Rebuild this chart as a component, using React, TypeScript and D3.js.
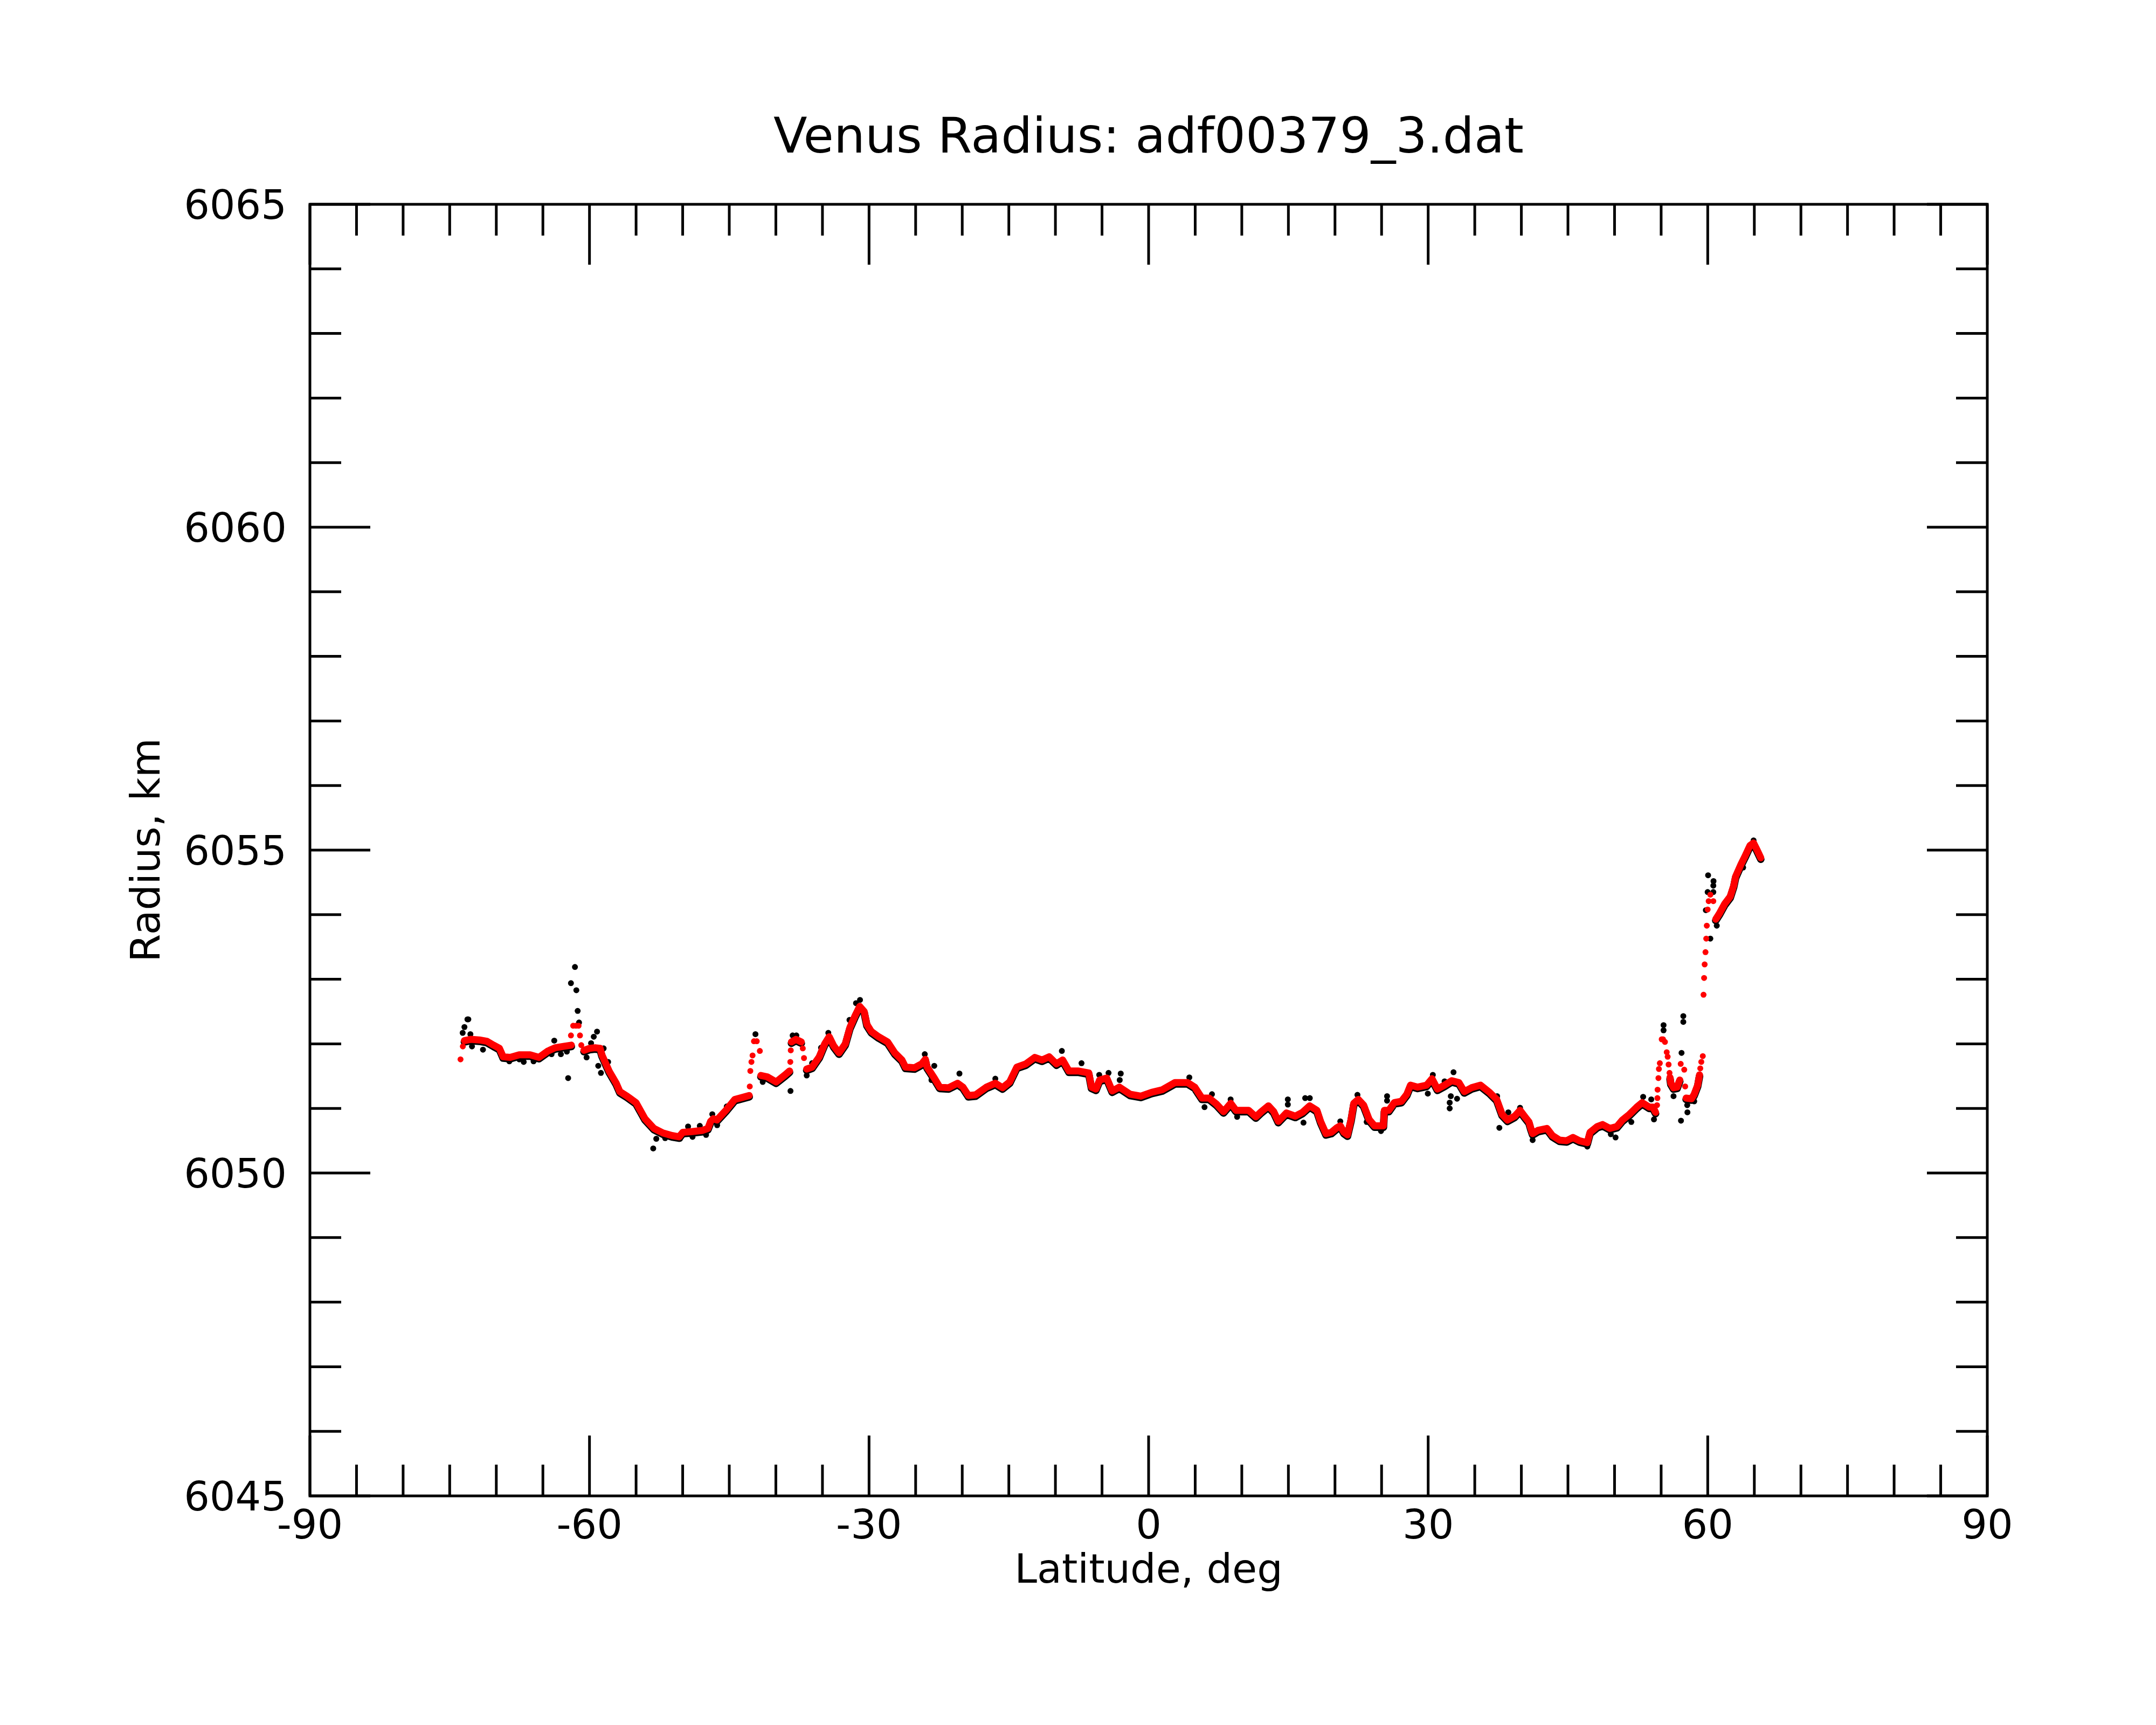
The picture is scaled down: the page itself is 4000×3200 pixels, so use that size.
import React from "react";
import { scaleLinear, line, range } from "d3";

// smoothed radius (red) where the samples run together into a band
const redTracks: Array<Array<[number, number]>> = [
  [
    [-73.42, 6052.05], [-72.75, 6052.07], [-71.8, 6052.06], [-71.01, 6052.04], [-70.3, 6051.98],
    [-69.66, 6051.93], [-69.27, 6051.8], [-68.5, 6051.79], [-67.54, 6051.83], [-66.38, 6051.83],
    [-65.42, 6051.79], [-64.45, 6051.89], [-63.68, 6051.94], [-62.8, 6051.96], [-61.95, 6051.98],
  ],
  [
    [-60.59, 6051.9], [-60.01, 6051.93], [-59.4, 6051.94], [-58.86, 6051.93], [-58.67, 6051.83],
    [-57.9, 6051.58], [-57.13, 6051.39], [-56.74, 6051.26], [-55.97, 6051.19], [-55.01, 6051.09],
    [-54.04, 6050.84], [-53.08, 6050.69], [-52.11, 6050.62], [-51.15, 6050.58], [-50.38, 6050.56],
    [-49.99, 6050.63], [-49.03, 6050.64], [-47.87, 6050.66], [-47.29, 6050.69], [-47.0, 6050.8],
    [-46.71, 6050.84], [-46.33, 6050.82], [-45.37, 6050.97], [-44.4, 6051.14], [-43.6, 6051.17],
    [-42.86, 6051.2],
  ],
  [
    [-41.61, 6051.51], [-40.94, 6051.49], [-39.97, 6051.41], [-39.01, 6051.52], [-38.53, 6051.58],
  ],
  [
    [-38.33, 6052.03], [-37.85, 6052.07], [-37.27, 6052.03],
  ],
  [
    [-36.69, 6051.61], [-36.11, 6051.64], [-35.34, 6051.8], [-34.76, 6052.0], [-34.28, 6052.11],
    [-33.8, 6051.97], [-33.22, 6051.86], [-32.55, 6052.0], [-32.06, 6052.25], [-31.48, 6052.44],
    [-31.0, 6052.58], [-30.52, 6052.5], [-30.23, 6052.3], [-29.75, 6052.19], [-28.98, 6052.11],
    [-28.01, 6052.03], [-27.24, 6051.86], [-26.47, 6051.75], [-26.09, 6051.64], [-25.12, 6051.63],
    [-24.35, 6051.69], [-23.96, 6051.76], [-23.77, 6051.64], [-23.0, 6051.47], [-22.42, 6051.33],
    [-21.46, 6051.32], [-20.5, 6051.39], [-19.92, 6051.33], [-19.34, 6051.2], [-18.57, 6051.21],
    [-17.41, 6051.33], [-16.45, 6051.39], [-15.68, 6051.32], [-14.91, 6051.41], [-14.14, 6051.64],
    [-13.17, 6051.69], [-12.21, 6051.79], [-11.44, 6051.75], [-10.67, 6051.8], [-9.89, 6051.69],
    [-9.22, 6051.75], [-8.55, 6051.58], [-7.58, 6051.58], [-6.42, 6051.55], [-6.13, 6051.33],
    [-5.65, 6051.3], [-5.26, 6051.44], [-4.49, 6051.47], [-3.91, 6051.27], [-3.14, 6051.33],
    [-1.98, 6051.22], [-0.83, 6051.19], [0.33, 6051.25], [1.48, 6051.29], [2.83, 6051.4],
    [4.18, 6051.4], [4.95, 6051.33], [5.72, 6051.16], [6.49, 6051.16], [7.26, 6051.07],
    [8.04, 6050.95], [8.81, 6051.08], [9.38, 6050.97], [10.74, 6050.97], [11.51, 6050.87],
    [12.09, 6050.95], [12.86, 6051.04], [13.43, 6050.95], [13.92, 6050.8], [14.79, 6050.93],
    [15.75, 6050.88], [16.52, 6050.94], [17.29, 6051.04], [18.06, 6050.97], [18.45, 6050.8],
    [19.03, 6050.61], [19.61, 6050.63], [20.19, 6050.7], [20.57, 6050.73], [20.96, 6050.63],
    [21.34, 6050.59], [21.73, 6050.83], [22.02, 6051.08], [22.5, 6051.14], [23.08, 6051.05],
    [23.66, 6050.83], [24.24, 6050.73], [25.2, 6050.73], [25.3, 6050.97], [25.78, 6050.97],
    [26.36, 6051.09], [27.13, 6051.11], [27.71, 6051.22], [28.1, 6051.36], [28.87, 6051.33],
    [29.83, 6051.36], [30.41, 6051.46], [30.99, 6051.3], [31.76, 6051.36], [32.53, 6051.43],
    [33.3, 6051.4], [33.88, 6051.26], [34.65, 6051.32], [35.62, 6051.36], [36.58, 6051.25],
    [37.35, 6051.14], [37.93, 6050.91], [38.51, 6050.82], [39.28, 6050.88], [39.86, 6050.97],
    [40.44, 6050.86], [40.82, 6050.79], [41.02, 6050.69], [41.21, 6050.61], [41.79, 6050.66],
    [42.75, 6050.69], [43.33, 6050.58], [44.1, 6050.51], [44.87, 6050.5], [45.54, 6050.55],
    [46.22, 6050.5], [47.08, 6050.47], [47.37, 6050.63], [48.14, 6050.72], [48.72, 6050.75],
    [49.49, 6050.69], [50.26, 6050.72], [50.84, 6050.82], [51.61, 6050.91], [52.38, 6051.02],
    [52.96, 6051.09], [53.73, 6051.02], [54.12, 6051.02], [54.4, 6050.94],
  ],
  [
    [55.95, 6051.48], [56.04, 6051.39], [56.33, 6051.32], [56.71, 6051.33], [57.0, 6051.44],
  ],
  [
    [57.68, 6051.16], [58.26, 6051.15], [58.55, 6051.22], [58.92, 6051.36], [59.12, 6051.52],
  ],
  [
    [60.86, 6053.93], [61.3, 6054.03], [61.83, 6054.17], [62.41, 6054.28], [62.79, 6054.45],
    [62.99, 6054.59], [63.57, 6054.78], [64.05, 6054.92], [64.53, 6055.07], [64.92, 6055.11],
    [65.3, 6055.0], [65.69, 6054.88],
  ],
];

// smoothed radius (red) where the samples stand apart
const redDots: Array<[number, number]> = [
  [-73.84, 6051.76], [-73.59, 6051.96],
  [-61.99, 6052.13], [-61.75, 6052.28], [-61.45, 6052.28], [-61.17, 6052.28], [-61.02, 6052.13],
  [-60.88, 6051.98],
  [-42.8, 6051.34], [-42.74, 6051.58], [-42.62, 6051.72], [-42.5, 6051.82], [-42.35, 6052.04],
  [-42.05, 6052.04], [-41.72, 6051.89],
  [-38.45, 6051.72], [-38.4, 6051.9], [-37.11, 6051.93], [-36.98, 6051.78],
  [54.56, 6051.05], [54.6, 6051.16], [54.62, 6051.29], [54.71, 6051.47], [54.76, 6051.61],
  [54.86, 6051.7], [55.06, 6052.07], [55.2, 6052.07], [55.41, 6052.03], [55.6, 6051.87],
  [55.7, 6051.8], [55.8, 6051.68], [55.9, 6051.55],
  [57.1, 6051.69], [57.48, 6051.6], [57.58, 6051.34],
  [59.2, 6051.62], [59.31, 6051.72], [59.47, 6051.81],
  [59.55, 6052.76], [59.61, 6053.02], [59.67, 6053.23], [59.76, 6053.42], [59.84, 6053.63],
  [59.9, 6053.83], [59.99, 6054.08], [60.1, 6054.21], [60.28, 6054.31], [60.6, 6054.21],
];

// raw radius (black) points that stand off the smoothed band
const rawDots: Array<[number, number]> = [
  [-73.61, 6052.17], [-73.42, 6052.26], [-73.1, 6052.38], [-73.0, 6052.38], [-72.78, 6052.15],
  [-72.61, 6051.96], [-71.43, 6051.91], [-68.6, 6051.73], [-67.54, 6051.76], [-67.06, 6051.72],
  [-66.0, 6051.73], [-64.07, 6051.84], [-63.78, 6052.05], [-63.07, 6051.84], [-62.43, 6051.88],
  [-62.29, 6051.47], [-61.99, 6052.94], [-61.56, 6053.19], [-61.41, 6052.83], [-61.27, 6052.51],
  [-61.12, 6052.33], [-60.31, 6051.79], [-59.83, 6052.01], [-59.54, 6052.11], [-59.19, 6052.19],
  [-59.06, 6051.66], [-58.77, 6051.55], [-58.48, 6051.93], [-58.0, 6051.72],
  [-53.16, 6050.38], [-52.83, 6050.53], [-51.88, 6050.54], [-50.29, 6050.53], [-49.42, 6050.72],
  [-48.94, 6050.56], [-48.16, 6050.73], [-47.49, 6050.59], [-46.82, 6050.91], [-46.3, 6050.74],
  [-45.27, 6051.03], [-42.19, 6052.15], [-41.41, 6051.41], [-38.43, 6051.27], [-38.2, 6052.13],
  [-37.8, 6052.13], [-36.69, 6051.51], [-36.11, 6051.7], [-35.15, 6051.94], [-34.37, 6052.17],
  [-32.1, 6052.37], [-31.4, 6052.63], [-30.97, 6052.68], [-24.02, 6051.84], [-23.3, 6051.44],
  [-23.0, 6051.66], [-20.3, 6051.54], [-16.45, 6051.46], [-9.31, 6051.89], [-7.2, 6051.7],
  [-5.3, 6051.52], [-4.3, 6051.55], [-3.1, 6051.44], [-2.99, 6051.54], [4.37, 6051.48],
  [6.0, 6051.02], [6.8, 6051.22], [8.8, 6051.14], [9.5, 6050.87],
  [14.94, 6051.14], [14.94, 6051.06], [16.62, 6050.78], [16.8, 6051.16], [17.3, 6051.16],
  [20.57, 6050.8], [22.41, 6051.21], [23.4, 6050.79], [24.94, 6050.65], [25.59, 6051.19],
  [25.59, 6051.12], [29.96, 6051.23], [30.5, 6051.52], [31.76, 6051.42], [32.31, 6051.09],
  [32.31, 6051.0], [32.43, 6051.19], [32.72, 6051.56], [33.1, 6051.15], [37.4, 6051.19],
  [37.64, 6050.7], [38.6, 6050.94], [39.86, 6051.01], [41.21, 6050.51], [47.08, 6050.41],
  [49.6, 6050.6], [50.11, 6050.55], [51.8, 6050.79], [53.07, 6051.18], [53.94, 6051.14],
  [54.23, 6050.83], [55.26, 6052.29], [55.26, 6052.21], [56.33, 6051.19], [57.13, 6050.81],
  [57.19, 6051.86], [57.38, 6052.43], [57.38, 6052.34], [57.8, 6051.05], [57.82, 6050.94],
  [58.55, 6051.11], [59.8, 6054.07], [59.99, 6054.35], [60.04, 6054.61], [60.28, 6053.63],
  [60.6, 6054.35], [60.6, 6054.45], [60.62, 6054.52], [60.97, 6053.83], [63.8, 6054.73],
  [64.92, 6055.15],
];

const xTickLabels = [-90, -60, -30, 0, 30, 60, 90];
const yTickLabels = [6045, 6050, 6055, 6060, 6065];

const W = 4000;
const H = 3200;
const left = 575;
const right = 3687;
const top = 379;
const bottom = 2775;
const font = "'DejaVu Sans', sans-serif";

export default function App() {
  const x = scaleLinear().domain([-90, 90]).range([left, right]);
  const y = scaleLinear().domain([6045, 6065]).range([bottom, top]);
  const path = line<[number, number]>()
    .x((d) => x(d[0]))
    .y((d) => y(d[1]));

  const xMinor = range(-90, 91, 5);
  const yMinor = range(6045, 6066, 1);
  const major = 112;
  const minor = 58;

  return (
    <svg
      width={W}
      height={H}
      style={{ position: "absolute", left: 0, top: 0, background: "#fff" }}
    >
      <rect x={0} y={0} width={W} height={H} fill="#fff" />

      {/* raw band, mostly hidden under the smoothed one */}
      <g transform="translate(0,2.5)">
        {redTracks.map((t, i) => (
          <path
            key={"b" + i}
            d={path(t) as string}
            fill="none"
            stroke="#000"
            strokeWidth={14}
            strokeLinejoin="round"
            strokeLinecap="round"
          />
        ))}
      </g>
      {rawDots.map((d, i) => (
        <circle key={"k" + i} cx={x(d[0])} cy={y(d[1])} r={5.5} fill="#000" />
      ))}
      {redTracks.map((t, i) => (
        <path
          key={"r" + i}
          d={path(t) as string}
          fill="none"
          stroke="#ff0000"
          strokeWidth={13}
          strokeLinejoin="round"
          strokeLinecap="round"
        />
      ))}
      {redDots.map((d, i) => (
        <circle key={"d" + i} cx={x(d[0])} cy={y(d[1])} r={5.5} fill="#ff0000" />
      ))}

      {/* frame and ticks */}
      <g stroke="#000" strokeWidth={5} fill="none">
        <rect x={left} y={top} width={right - left} height={bottom - top} />
        {xMinor.map((v) => {
          const len = v % 30 === 0 ? major : minor;
          return (
            <g key={"xt" + v}>
              <line x1={x(v)} x2={x(v)} y1={bottom} y2={bottom - len} />
              <line x1={x(v)} x2={x(v)} y1={top} y2={top + len} />
            </g>
          );
        })}
        {yMinor.map((v) => {
          const len = v % 5 === 0 ? major : minor;
          return (
            <g key={"yt" + v}>
              <line x1={left} x2={left + len} y1={y(v)} y2={y(v)} />
              <line x1={right} x2={right - len} y1={y(v)} y2={y(v)} />
            </g>
          );
        })}
      </g>

      <g fontFamily={font} fontSize={75} fill="#000">
        {xTickLabels.map((v) => (
          <text key={"xl" + v} x={x(v)} y={bottom + 79} textAnchor="middle">
            {v}
          </text>
        ))}
        {yTickLabels.map((v) => (
          <text key={"yl" + v} x={left - 43} y={y(v) + 27} textAnchor="end">
            {v}
          </text>
        ))}
        <text x={(left + right) / 2} y={2936} textAnchor="middle">
          Latitude, deg
        </text>
        <text
          transform={`translate(296,${(top + bottom) / 2}) rotate(-90)`}
          textAnchor="middle"
        >
          Radius, km
        </text>
      </g>
      <text
        x={(left + right) / 2}
        y={283}
        textAnchor="middle"
        fontFamily={font}
        fontSize={91.5}
        fill="#000"
      >
        Venus Radius: adf00379_3.dat
      </text>
    </svg>
  );
}
